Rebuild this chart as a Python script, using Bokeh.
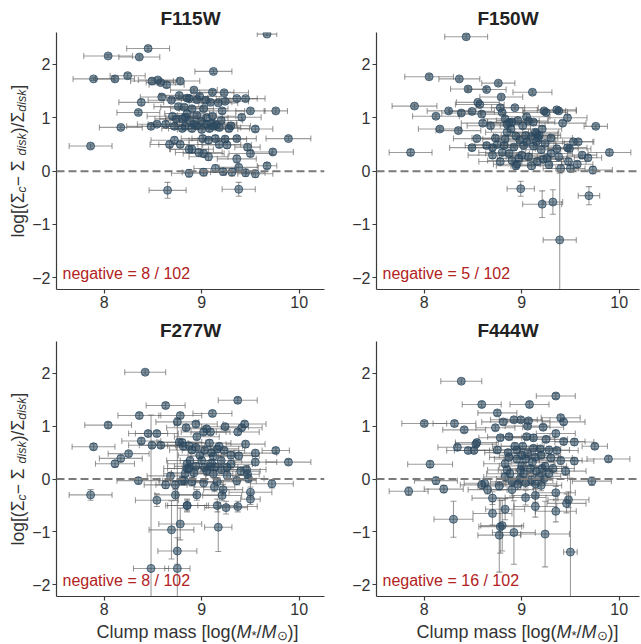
import math
from bokeh.plotting import figure
from bokeh.models import ColumnDataSource, Span, Label, Range1d, FixedTicker
from bokeh.layouts import gridplot
from bokeh.embed import file_html
from bokeh.resources import INLINE

# ---------------- data ----------------
titles = ["F115W", "F150W", "F277W", "F444W"]
neg_texts = ["negative = 8 / 102", "negative = 5 / 102", "negative = 8 / 102", "negative = 16 / 102"]
x_ticks = [8, 9, 10]
y_ticks = [-2, -1, 0, 1, 2]

f115_x = [9.67, 8.45, 8.04, 8.36, 9.12, 7.89, 8.11, 8.24, 8.49, 8.55,
          8.58, 8.64, 8.78, 8.59, 8.69, 8.77, 8.85, 8.38, 8.76, 8.35,
          8.70, 8.17, 8.48, 8.54, 8.63, 8.72, 8.80, 8.83, 8.74, 8.80,
          8.83, 7.86, 8.72, 8.67, 8.78, 8.87, 8.87, 8.65, 8.92, 9.11,
          9.23, 8.87, 8.95, 9.04, 9.09, 9.17, 9.24, 9.36, 9.45, 8.90,
          9.02, 9.21, 9.50, 9.76, 9.11, 9.41, 9.00, 9.05, 9.10, 9.15,
          9.18, 8.95, 8.90, 9.00, 9.08, 9.12, 9.55, 8.92, 9.01, 9.07,
          9.14, 9.24, 9.36, 9.89, 9.18, 9.26, 9.47, 8.90, 8.97, 9.02,
          9.07, 9.50, 9.73, 9.36, 9.67, 9.14, 9.38, 9.31, 9.55, 9.38,
          8.85, 8.95, 9.05, 8.88, 9.20, 9.28, 8.82, 9.30, 8.98, 9.22,
          9.02, 9.45]
f115_y = [2.57, 2.30, 2.16, 2.14, 1.87, 1.73, 1.73, 1.79, 1.69, 1.71,
          1.66, 1.62, 1.69, 1.39, 1.33, 1.42, 1.37, 1.29, 1.21, 1.10,
          1.03, 0.82, 0.84, 0.88, 0.88, 0.84, 0.80, 0.84, 0.98, 0.98,
          1.01, 0.47, 0.58, 0.50, 0.50, 0.41, -0.04, -0.36, 1.52, 1.48,
          1.47, 1.36, 1.34, 1.33, 1.29, 1.28, 1.31, 1.36, 1.36, 1.17,
          1.17, 1.13, 1.13, 1.13, 1.03, 1.01, 0.93, 0.88, 0.90, 0.87,
          0.82, 0.85, 0.80, 0.78, 0.80, 0.84, 0.79, 0.88, 0.61, 0.58,
          0.61, 0.60, 0.61, 0.61, 0.50, 0.49, 0.45, 0.41, 0.35, 0.33,
          0.27, 0.33, 0.36, 0.23, 0.10, 0.05, 0.07, -0.02, -0.05, -0.34,
          1.08, 1.05, 1.00, 0.95, 0.95, 0.80, 1.20, 0.85, 1.40, -0.01,
          -0.02, -0.03]
f115_xe = [0.10, 0.22, 0.25, 0.21, 0.19, 0.21, 0.20, 0.18, 0.22, 0.20,
           0.15, 0.18, 0.20, 0.22, 0.24, 0.20, 0.21, 0.23, 0.25, 0.22,
           0.26, 0.22, 0.25, 0.20, 0.18, 0.24, 0.21, 0.19, 0.22, 0.23,
           0.20, 0.22, 0.24, 0.20, 0.22, 0.20, 0.18, 0.19, 0.24, 0.22,
           0.25, 0.20, 0.23, 0.25, 0.22, 0.20, 0.24, 0.21, 0.20, 0.22,
           0.25, 0.23, 0.15, 0.12, 0.24, 0.20, 0.23, 0.22, 0.26, 0.21,
           0.22, 0.20, 0.24, 0.25, 0.22, 0.20, 0.18, 0.24, 0.22, 0.20,
           0.24, 0.22, 0.20, 0.23, 0.22, 0.25, 0.13, 0.22, 0.24, 0.21,
           0.20, 0.22, 0.21, 0.20, 0.10, 0.22, 0.20, 0.22, 0.18, 0.17,
           0.23, 0.20, 0.22, 0.25, 0.22, 0.21, 0.24, 0.20, 0.22, 0.24,
           0.22, 0.20]
f115_ye = [0.03, 0.04, 0.03, 0.04, 0.04, 0.03, 0.04, 0.04, 0.05, 0.04,
           0.04, 0.05, 0.04, 0.05, 0.04, 0.05, 0.04, 0.05, 0.05, 0.04,
           0.05, 0.04, 0.05, 0.04, 0.05, 0.06, 0.05, 0.04, 0.05, 0.06,
           0.05, 0.04, 0.06, 0.05, 0.05, 0.06, 0.07, 0.15, 0.04, 0.04,
           0.04, 0.05, 0.04, 0.05, 0.05, 0.04, 0.05, 0.04, 0.04, 0.05,
           0.05, 0.05, 0.04, 0.04, 0.05, 0.05, 0.05, 0.06, 0.05, 0.05,
           0.06, 0.05, 0.06, 0.05, 0.06, 0.05, 0.05, 0.05, 0.06, 0.06,
           0.06, 0.06, 0.05, 0.04, 0.06, 0.06, 0.06, 0.07, 0.07, 0.07,
           0.07, 0.06, 0.05, 0.07, 0.05, 0.07, 0.06, 0.07, 0.07, 0.13,
           0.05, 0.05, 0.05, 0.06, 0.05, 0.06, 0.05, 0.06, 0.04, 0.06,
           0.07, 0.07]

f150_x = [8.43, 8.05, 8.36, 8.76, 8.45, 8.64, 9.11, 8.79, 7.90, 8.25,
          8.12, 8.38, 8.49, 8.55, 8.57, 8.59, 8.16, 8.35, 7.86, 9.90,
          9.76, 9.47, 9.38, 9.25, 9.68, 9.73, 9.50, 9.57, 9.53, 9.58,
          9.49, 8.99, 9.21, 9.32, 9.69, 9.39, 8.54, 8.49, 8.78, 8.94,
          8.78, 8.80, 8.68, 8.85, 8.64, 8.70, 8.75, 8.82, 8.70, 8.87,
          8.89, 8.93, 9.23, 9.36, 9.42, 8.83, 8.90, 9.01, 9.07, 9.12,
          9.14, 9.18, 9.21, 9.04, 8.94, 8.85, 8.92, 9.02, 9.12, 9.24,
          9.36, 9.47, 8.87, 8.97, 9.07, 9.16, 9.26, 9.38, 9.48, 8.95,
          9.15, 9.17, 9.10, 9.05, 8.98, 9.20, 9.30, 8.80, 8.90, 9.00,
          9.10, 9.28, 9.05, 8.96, 9.15, 8.83, 9.30, 8.73, 9.40, 9.22,
          9.62, 8.60]
f150_y = [2.52, 1.77, 1.73, 1.65, 1.54, 1.53, 1.48, 1.39, 1.22, 1.13,
          1.03, 1.09, 1.12, 1.29, 1.25, 1.07, 0.79, 0.76, 0.35, 0.35,
          0.84, 1.00, 1.13, 1.10, 0.25, 0.02, 0.05, 0.13, 0.55, 0.55,
          0.42, -0.33, -0.62, -0.58, -0.46, -1.29, 0.61, 0.44, 0.18, 0.10,
          1.19, 1.10, 0.85, 0.88, 0.48, 0.44, 0.50, 0.48, 0.30, 0.91,
          0.79, 1.19, 1.13, 1.15, 0.90, 0.98, 0.92, 0.85, 0.94, 0.92,
          0.73, 0.67, 0.79, 0.67, 0.66, 0.73, 0.45, 0.48, 0.47, 0.52,
          0.42, 0.44, 0.33, 0.24, 0.27, 0.18, 0.24, 0.27, 0.18, 0.13,
          0.70, 0.62, 0.65, 0.55, 0.58, 0.40, 0.33, 0.35, 0.20, 0.30,
          0.10, 0.12, 1.02, 0.95, 0.55, 0.60, 0.62, 0.62, 0.05, 0.22,
          0.30, 0.90]
f150_xe = [0.22, 0.25, 0.21, 0.17, 0.18, 0.20, 0.20, 0.22, 0.23, 0.22,
           0.24, 0.20, 0.23, 0.22, 0.25, 0.24, 0.22, 0.23, 0.22, 0.22,
           0.12, 0.20, 0.18, 0.22, 0.14, 0.20, 0.15, 0.16, 0.20, 0.16,
           0.22, 0.14, 0.20, 0.10, 0.11, 0.17, 0.24, 0.23, 0.22, 0.20,
           0.25, 0.22, 0.24, 0.20, 0.22, 0.24, 0.23, 0.21, 0.25, 0.22,
           0.20, 0.24, 0.22, 0.20, 0.24, 0.22, 0.25, 0.23, 0.20, 0.22,
           0.24, 0.22, 0.20, 0.25, 0.23, 0.22, 0.24, 0.21, 0.23, 0.20,
           0.22, 0.20, 0.24, 0.22, 0.23, 0.25, 0.20, 0.22, 0.18, 0.24,
           0.22, 0.20, 0.24, 0.23, 0.22, 0.20, 0.22, 0.24, 0.25, 0.23,
           0.21, 0.22, 0.24, 0.22, 0.20, 0.23, 0.22, 0.24, 0.18, 0.21,
           0.15, 0.22]
f150_ye = [0.04, 0.04, 0.04, 0.04, 0.04, 0.04, 0.04, 0.04, 0.04, 0.04,
           0.04, 0.05, 0.04, 0.04, 0.04, 0.05, 0.04, 0.05, 0.05, 0.05,
           0.04, 0.05, 0.04, 0.05, 0.06, 0.07, 0.06, 0.06, 0.05, 0.05,
           0.05, 0.14, 0.25, 0.23, 0.17, 1.25, 0.05, 0.05, 0.06, 0.07,
           0.04, 0.04, 0.05, 0.05, 0.05, 0.05, 0.05, 0.05, 0.06, 0.05,
           0.05, 0.04, 0.05, 0.04, 0.05, 0.05, 0.05, 0.05, 0.05, 0.05,
           0.05, 0.05, 0.05, 0.05, 0.05, 0.05, 0.06, 0.06, 0.06, 0.05,
           0.06, 0.06, 0.06, 0.06, 0.06, 0.07, 0.06, 0.06, 0.06, 0.07,
           0.05, 0.05, 0.05, 0.05, 0.05, 0.06, 0.06, 0.06, 0.06, 0.06,
           0.07, 0.07, 0.05, 0.05, 0.05, 0.05, 0.05, 0.05, 0.07, 0.06,
           0.06, 0.05]

f277_x = [8.42, 8.63, 8.36, 8.78, 8.04, 8.75, 8.84, 8.45, 8.54, 8.38,
          8.49, 8.58, 8.77, 7.89, 8.25, 8.17, 8.11, 8.85, 8.87, 8.35,
          8.68, 8.63, 8.73, 8.82, 7.86, 8.54, 8.73, 8.85, 8.78, 8.69,
          8.75, 8.48, 8.75, 9.37, 9.11, 8.94, 9.24, 9.41, 9.44, 9.02,
          9.09, 9.37, 8.80, 8.87, 8.94, 9.03, 9.16, 9.23, 9.45, 9.12,
          9.38, 9.55, 9.76, 8.85, 8.94, 9.09, 9.14, 9.26, 9.46, 9.55,
          9.89, 8.80, 8.90, 9.02, 9.16, 9.26, 9.36, 9.48, 9.72, 8.95,
          9.21, 9.50, 9.50, 8.85, 9.16, 9.25, 9.37, 9.17, 9.47, 9.05,
          8.90, 9.00, 9.10, 9.20, 8.92, 9.05, 9.12, 9.30, 9.18, 8.98,
          9.08, 8.88, 9.22, 9.30, 8.95, 9.10, 9.40, 8.83, 9.20, 9.03,
          8.81, 9.13]
f277_y = [2.02, 1.39, 1.20, 1.20, 1.02, 1.08, 0.97, 0.86, 0.86, 0.72,
          0.64, 0.64, 0.70, 0.61, 0.48, 0.39, 0.29, 0.29, 0.20, -0.03,
          0.06, -0.11, -0.11, -0.03, -0.30, -0.40, -0.30, -0.50, -0.85, -0.96,
          -1.36, -1.69, -1.69, 1.49, 1.24, 1.04, 0.99, 0.97, 1.04, 0.89,
          0.89, 0.89, 0.69, 0.63, 0.60, 0.54, 0.57, 0.54, 0.66, 0.43,
          0.44, 0.49, 0.54, 0.20, 0.24, 0.23, 0.23, 0.22, 0.18, 0.32,
          0.32, -0.03, -0.05, -0.07, -0.05, 0.07, -0.03, 0.01, -0.09, -0.30,
          -0.31, -0.25, -0.38, -0.50, -0.50, -0.54, -0.52, -0.91, 0.09, 0.95,
          0.55, 0.35, 0.30, 0.35, 0.12, 0.15, 0.10, 0.28, 0.62, 0.45,
          0.68, 0.35, -0.20, 0.45, 0.80, 0.50, 0.15, 0.10, 0.18, 0.22,
          0.62, -0.15]
f277_xe = [0.21, 0.20, 0.22, 0.22, 0.24, 0.22, 0.20, 0.20, 0.22, 0.20,
           0.24, 0.22, 0.23, 0.22, 0.21, 0.22, 0.20, 0.20, 0.22, 0.22,
           0.24, 0.22, 0.20, 0.22, 0.22, 0.22, 0.21, 0.20, 0.22, 0.23,
           0.20, 0.18, 0.13, 0.20, 0.20, 0.22, 0.24, 0.21, 0.22, 0.23,
           0.20, 0.22, 0.24, 0.22, 0.20, 0.23, 0.22, 0.21, 0.20, 0.23,
           0.21, 0.22, 0.14, 0.24, 0.22, 0.20, 0.23, 0.22, 0.20, 0.22,
           0.23, 0.24, 0.22, 0.20, 0.23, 0.22, 0.20, 0.16, 0.22, 0.22,
           0.20, 0.22, 0.10, 0.22, 0.20, 0.22, 0.20, 0.14, 0.12, 0.22,
           0.23, 0.22, 0.24, 0.21, 0.23, 0.22, 0.20, 0.22, 0.24, 0.22,
           0.22, 0.24, 0.20, 0.22, 0.23, 0.24, 0.20, 0.22, 0.21, 0.23,
           0.22, 0.21]
f277_ye = [0.04, 0.05, 0.05, 0.05, 0.05, 0.05, 0.05, 0.05, 0.05, 0.05,
           0.05, 0.05, 0.05, 0.06, 0.05, 0.06, 0.06, 0.06, 0.06, 0.06,
           0.06, 0.07, 0.07, 0.07, 0.10, 0.12, 0.10, 0.10, 0.30, 0.55,
           0.25, 2.90, 2.85, 0.05, 0.05, 0.05, 0.05, 0.05, 0.05, 0.05,
           0.05, 0.05, 0.06, 0.06, 0.06, 0.06, 0.06, 0.06, 0.06, 0.06,
           0.06, 0.06, 0.05, 0.07, 0.07, 0.07, 0.07, 0.07, 0.07, 0.06,
           0.05, 0.08, 0.08, 0.08, 0.08, 0.08, 0.08, 0.08, 0.08, 0.10,
           0.10, 0.10, 0.10, 0.12, 0.12, 0.12, 0.10, 0.46, 0.08, 0.05,
           0.06, 0.06, 0.07, 0.07, 0.08, 0.08, 0.08, 0.07, 0.06, 0.06,
           0.06, 0.07, 0.10, 0.07, 0.05, 0.06, 0.08, 0.08, 0.08, 0.07,
           0.06, 0.09]

f444_x = [8.38, 8.59, 8.75, 8.00, 8.31, 8.41, 8.81, 8.73, 8.54, 8.53,
          8.34, 8.45, 8.51, 8.75, 8.78, 8.87, 8.06, 8.12, 8.20, 7.84,
          8.30, 8.59, 8.65, 8.77, 8.70, 8.70, 8.78, 8.77, 8.83, 8.85,
          8.83, 9.35, 9.08, 8.92, 8.99, 9.07, 9.06, 9.22, 9.40, 9.43,
          9.35, 9.43, 9.54, 9.75, 9.01, 9.12, 9.19, 9.36, 8.87, 8.95,
          9.04, 9.14, 9.11, 9.54, 9.89, 8.99, 9.09, 9.21, 9.24, 9.45,
          8.90, 9.04, 9.14, 9.23, 9.72, 8.90, 9.04, 9.14, 9.35, 9.48,
          9.46, 8.83, 9.14, 9.35, 8.92, 9.24, 9.50, 8.80, 8.95, 9.05,
          9.00, 9.18, 9.28, 9.10, 8.98, 9.30, 9.20, 8.93, 9.25, 9.15,
          8.88, 9.06, 8.96, 9.20, 9.32, 9.00, 8.86, 9.12, 9.28, 9.40,
          8.62, 9.02]
f444_y = [1.85, 1.41, 1.25, 1.05, 1.05, 0.93, 1.08, 0.97, 0.69, 0.66,
          0.60, 0.54, 0.54, 0.55, 0.78, 0.80, 0.28, -0.03, -0.19, -0.23,
          -0.76, -0.11, -0.20, -0.13, -0.36, -0.65, -0.90, -1.06, 0.29, 0.17,
          0.04, 1.57, 1.41, 1.12, 1.12, 1.10, 1.00, 0.98, 1.16, 1.08,
          0.86, 0.71, 0.70, 0.62, 0.62, 0.58, 0.57, 0.54, 0.41, 0.38,
          0.38, 0.41, 0.32, 0.34, 0.38, 0.17, 0.20, 0.20, 0.24, 0.15,
          -0.05, -0.07, -0.09, 0.01, -0.04, -0.20, -0.35, -0.31, -0.26, -0.39,
          -0.46, -0.57, -0.52, -0.61, -1.01, -1.04, -1.38, -0.88, 0.55, 0.80,
          0.25, 0.05, 0.10, -0.02, 0.00, 0.40, 0.45, 0.62, 0.75, 0.15,
          0.10, 0.48, -0.10, -0.12, 0.20, 0.45, 0.50, 0.78, 0.55, 0.35,
          -0.08, 0.10]
f444_xe = [0.21, 0.20, 0.20, 0.23, 0.22, 0.22, 0.22, 0.20, 0.22, 0.21,
           0.20, 0.22, 0.20, 0.23, 0.22, 0.22, 0.23, 0.22, 0.20, 0.20,
           0.20, 0.22, 0.20, 0.22, 0.21, 0.20, 0.22, 0.22, 0.22, 0.20,
           0.22, 0.20, 0.20, 0.24, 0.22, 0.22, 0.23, 0.21, 0.20, 0.22,
           0.20, 0.22, 0.20, 0.13, 0.22, 0.23, 0.21, 0.22, 0.20, 0.23,
           0.22, 0.24, 0.22, 0.20, 0.22, 0.23, 0.22, 0.20, 0.22, 0.21,
           0.22, 0.20, 0.22, 0.24, 0.20, 0.22, 0.21, 0.23, 0.20, 0.21,
           0.20, 0.20, 0.22, 0.21, 0.22, 0.25, 0.07, 0.22, 0.22, 0.24,
           0.23, 0.22, 0.21, 0.22, 0.24, 0.22, 0.20, 0.23, 0.22, 0.21,
           0.24, 0.22, 0.23, 0.21, 0.22, 0.23, 0.24, 0.22, 0.21, 0.22,
           0.21, 0.23]
f444_ye = [0.04, 0.05, 0.05, 0.04, 0.05, 0.05, 0.05, 0.05, 0.05, 0.05,
           0.05, 0.05, 0.05, 0.06, 0.05, 0.05, 0.06, 0.07, 0.07, 0.08,
           0.34, 0.08, 0.08, 0.08, 0.12, 0.22, 0.50, 0.70, 0.07, 0.07,
           0.08, 0.05, 0.05, 0.05, 0.05, 0.05, 0.05, 0.05, 0.05, 0.05,
           0.06, 0.06, 0.06, 0.05, 0.06, 0.06, 0.06, 0.06, 0.06, 0.07,
           0.07, 0.06, 0.07, 0.06, 0.05, 0.08, 0.08, 0.08, 0.07, 0.08,
           0.09, 0.10, 0.10, 0.09, 0.08, 0.12, 0.14, 0.13, 0.12, 0.15,
           0.18, 0.20, 0.20, 0.20, 0.60, 0.62, 1.40, 0.48, 0.06, 0.05,
           0.07, 0.08, 0.08, 0.09, 0.09, 0.07, 0.07, 0.06, 0.06, 0.08,
           0.08, 0.07, 0.10, 0.10, 0.08, 0.07, 0.06, 0.06, 0.07, 0.07,
           0.09, 0.09]

panels = [
    (f115_x, f115_y, f115_xe, f115_ye),
    (f150_x, f150_y, f150_xe, f150_ye),
    (f277_x, f277_y, f277_xe, f277_ye),
    (f444_x, f444_y, f444_xe, f444_ye),
]

# ---------------- style / layout ----------------
FONT = "Liberation Sans"
PT_COLOR = "#2a4860"
ERR_COLOR = "#5a5a5a"
AX_COLOR = "#3a3a3a"
TXT_COLOR = "#333333"
NEG_COLOR = "#b22222"

YL_W = 29                 # width of the y-label strip
FH = [257, 255]           # frame heights per row
FW = [268, 263]           # frame widths per column
LEFT = [25, 48]
RIGHT = [4, 3]
TOP = [32, 28]
BOT = [24, 24]
TITLE_STANDOFF = [7, 1]
XL_H = 23                 # height of the x-label strip
X0, X1_FULL = 7.51, 10.26
Y0, Y1 = -2.22, 2.60
MID = 0.35                # middle-of-line offset above baseline (em)

# approximate Arial advance widths (em)
ADV = {'C': 0.722, 'l': 0.222, 'u': 0.556, 'm': 0.833, 'p': 0.556, ' ': 0.278,
       'a': 0.556, 's': 0.5, '[': 0.278, 'o': 0.556, 'g': 0.556, '(': 0.333,
       ')': 0.333, ']': 0.278, 'M': 0.833, '/': 0.278, '*': 0.389, '⊙': 0.84,
       'Σ': 0.62, '−': 0.584, 'c': 0.5, 'd': 0.556, 'i': 0.222, 'k': 0.5}


def tw(text, size):
    return sum(ADV.get(ch, 0.55) for ch in text) * size


YLAB = [("log[(Σ", 17.5, "normal", 0), ("c", 12.5, "italic", 2.5),
        (" − Σ", 17.5, "normal", 0), ("disk", 12.5, "italic", 2.5),
        (")/Σ", 17.5, "normal", 0), ("disk", 12.5, "italic", 2.5),
        ("]", 17.5, "normal", 0)]
XLAB = [("Clump mass [log(", 18, "normal", 0), ("M", 18, "italic", 0),
        ("*", 13, "normal", 2), ("/", 18, "normal", 0), ("M", 18, "italic", 0),
        ("⊙", 13, "normal", 2), (")]", 18, "normal", 0)]


def blank(width, height):
    f = figure(width=width, height=height, x_range=Range1d(0, width),
               y_range=Range1d(0, height), min_border=0, title=None,
               x_axis_location=None, y_axis_location=None,
               output_backend="svg", toolbar_location=None)
    f.grid.visible = False
    f.outline_line_color = None
    f.background_fill_color = "white"
    f.border_fill_color = "white"
    return f


def ylabel_strip(row):
    # in the grid this strip's frame is aligned with the row's plot frames
    f = blank(YL_W, TOP[row] + FH[row] + BOT[row])
    total = sum(tw(t, s) for t, s, _, _ in YLAB)
    pos = (FH[row] - total) / 2
    base = YL_W - 5.5          # baseline of the main text (glyphs extend left)
    for t, s, st, dy in YLAB:
        f.add_layout(Label(x=base + dy - MID * s, y=pos, x_units="screen", y_units="screen",
                           text=t, angle=math.pi / 2, text_font=FONT,
                           text_font_size=f"{s}px", text_font_style=st,
                           text_color=TXT_COLOR, text_baseline="middle",
                           text_align="left"))
        pos += tw(t, s)
    return f


def xlabel_strip(col):
    # in the grid this strip's frame is aligned with the column's plot frames
    f = blank(LEFT[col] + FW[col] + RIGHT[col], XL_H)
    pos = 40
    base = 5.2
    for t, s, st, dy in XLAB:
        f.add_layout(Label(x=pos, y=base - dy + MID * s, x_units="screen", y_units="screen",
                           text=t, text_font=FONT,
                           text_font_size=f"{s}px", text_font_style=st,
                           text_color=TXT_COLOR, text_baseline="middle",
                           text_align="left"))
        pos += tw(t, s)
    return f


def make_panel(i):
    row, col = divmod(i, 2)
    xs, ys, xes, yes = panels[i]
    assert len(xs) == len(ys) == len(xes) == len(yes), titles[i]
    fw = FW[col]
    x1 = X0 + (X1_FULL - X0) * fw / FW[0]
    p = figure(frame_width=fw, frame_height=FH[row],
               x_range=Range1d(X0, x1), y_range=Range1d(Y0, Y1),
               output_backend="svg", toolbar_location=None, title=titles[i],
               min_border_left=LEFT[col], min_border_right=RIGHT[col],
               min_border_top=TOP[row], min_border_bottom=BOT[row])
    p.title.align = "center"
    p.title.text_font = FONT
    p.title.text_font_size = "19px"
    p.title.text_font_style = "bold"
    p.title.text_color = "#222222"
    p.title.standoff = TITLE_STANDOFF[row]
    p.outline_line_color = None
    p.grid.visible = False
    p.background_fill_color = "white"
    p.border_fill_color = "white"

    for ax in (p.xaxis[0], p.yaxis[0]):
        ax.axis_line_color = AX_COLOR
        ax.axis_line_width = 1.2
        ax.major_tick_line_color = AX_COLOR
        ax.major_tick_line_width = 1.2
        ax.major_tick_out = 4
        ax.major_tick_in = 0
        ax.minor_tick_line_color = None
        ax.major_label_text_font = FONT
        ax.major_label_text_font_size = "16px"
        ax.major_label_text_color = TXT_COLOR
        ax.major_label_standoff = 2
    p.xaxis.ticker = FixedTicker(ticks=x_ticks)
    p.yaxis.ticker = FixedTicker(ticks=y_ticks)
    p.yaxis.major_label_overrides = {t: (str(t).replace("-", "−")) for t in y_ticks}

    src = ColumnDataSource(dict(
        x=xs, y=ys,
        xl=[a - e for a, e in zip(xs, xes)], xh=[a + e for a, e in zip(xs, xes)],
        yl=[a - e for a, e in zip(ys, yes)], yh=[a + e for a, e in zip(ys, yes)],
    ))
    p.add_layout(Span(location=0, dimension="width", line_color="#7a7a7a",
                      line_dash="8 4", line_width=2))
    ek = dict(source=src, line_color=ERR_COLOR, line_alpha=0.6, line_width=1.1)
    p.segment(x0="xl", y0="y", x1="xh", y1="y", **ek)
    p.segment(x0="x", y0="yl", x1="x", y1="yh", **ek)
    p.scatter(x="xl", y="y", marker="dash", angle=math.pi / 2, size=6, **ek)
    p.scatter(x="xh", y="y", marker="dash", angle=math.pi / 2, size=6, **ek)
    p.scatter(x="x", y="yl", marker="dash", size=6, **ek)
    p.scatter(x="x", y="yh", marker="dash", size=6, **ek)
    p.scatter(x="x", y="y", source=src, size=8, fill_color=PT_COLOR, fill_alpha=0.55,
              line_color=PT_COLOR, line_alpha=0.75, line_width=1)

    p.add_layout(Label(x=6, y=8, x_units="screen", y_units="screen", text=neg_texts[i],
                       text_color=NEG_COLOR, text_font=FONT, text_font_size="16px",
                       text_baseline="bottom", text_align="left"))
    return p


figs = [make_panel(i) for i in range(4)]
grid = gridplot([[ylabel_strip(0), figs[0], figs[1]],
                 [ylabel_strip(1), figs[2], figs[3]],
                 [None, xlabel_strip(0), xlabel_strip(1)]],
                toolbar_location=None)

open("out.html", "w").write(file_html(grid, INLINE))
